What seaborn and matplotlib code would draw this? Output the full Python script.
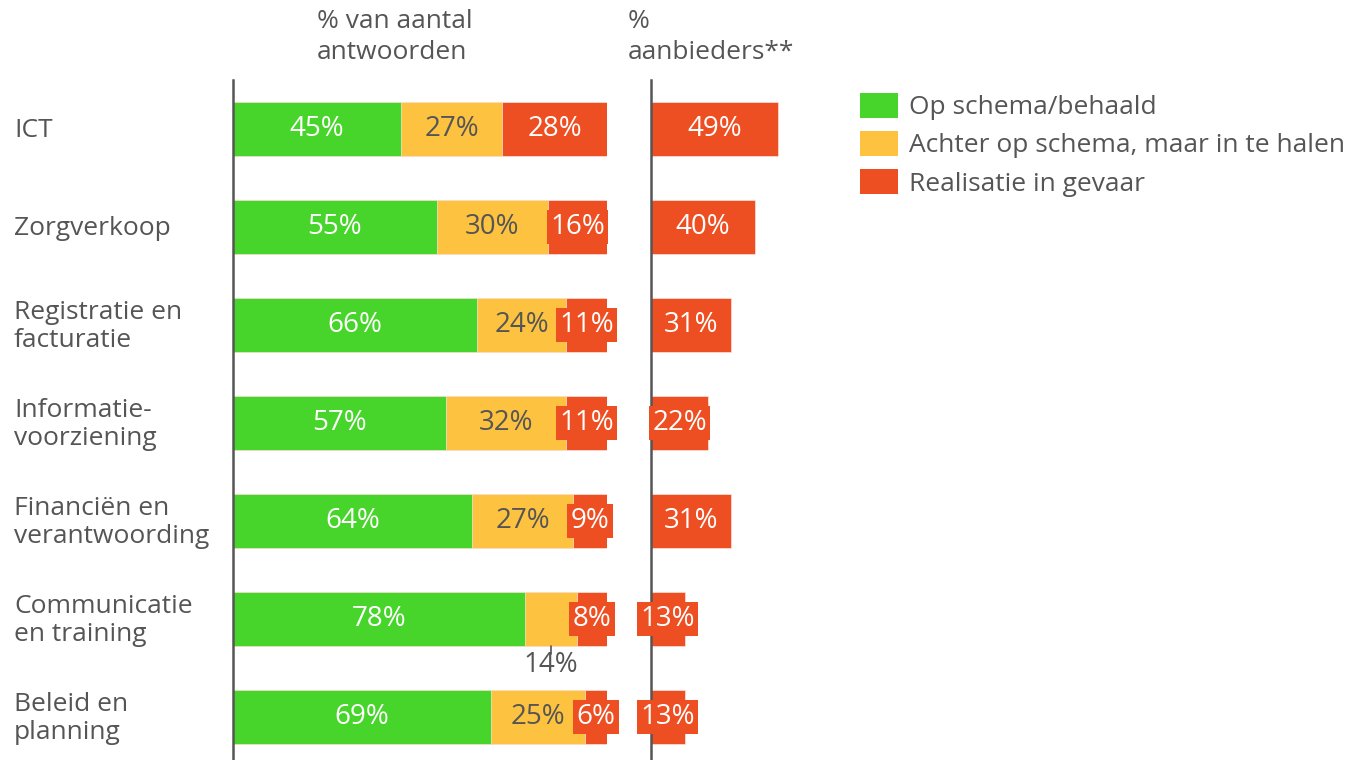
import numpy as np
import pandas as pd
import matplotlib.pyplot as plt
import seaborn as sns
from matplotlib.patches import Patch
from matplotlib.transforms import blended_transform_factory

categories = ["ICT", "Zorgverkoop", "Registratie en\nfacturatie", "Informatie-\nvoorziening",
              "Financiën en\nverantwoording", "Communicatie\nen training", "Beleid en\nplanning"]
op_schema = [45, 55, 66, 57, 64, 78, 69]
achter = [27, 30, 24, 32, 27, 14, 25]
gevaar = [28, 16, 11, 11, 9, 8, 6]
aanbieders = [49, 40, 31, 22, 31, 13, 13]

series = ["Op schema/behaald", "Achter op schema, maar in te halen", "Realisatie in gevaar"]
colors = ["#48d52b", "#fdc340", "#ee4f22"]
label_colors = ["white", "#555555", "white"]
txt = "#555555"

sns.set_theme(style="white")
plt.rcParams['font.family'] = ['Open Sans', 'DejaVu Sans']

df = pd.DataFrame({"cat": categories, series[0]: op_schema, series[1]: achter, series[2]: gevaar})
# rows that add to 101 are scaled so every bar ends at 100%
tot = df[series].sum(axis=1)
shares = df[series].div(tot, axis=0) * 100
cum = shares.cumsum(axis=1)

W, H = 1365, 760
fig = plt.figure(figsize=(W / 100, H / 100), dpi=100)
ax = fig.add_axes([233 / W, 0, 374 / W, 1 - 80 / H])
ax2 = fig.add_axes([651 / W, 0, 259 / W, 1 - 80 / H])

# stacked bars: draw cumulative totals back to front
for i in [2, 1, 0]:
    sns.barplot(x=cum[series[i]].values, y=df["cat"], orient="h", color=colors[i],
                width=0.55, ax=ax, saturation=1, edgecolor="#fbe3d8", linewidth=0.5)
sns.barplot(x=aanbieders, y=categories, orient="h", color=colors[2], width=0.55, ax=ax2,
            saturation=1, edgecolor="#fbe3d8", linewidth=0.5)

fs = 19
vfs = 20
for a in [ax, ax2]:
    a.set_xlim(0, 100)
    a.set_ylim(6.44, -0.5)
    a.set_xticks([])
    a.set_yticks([])
    a.set_xlabel("")
    a.set_ylabel("")
    for s in ["top", "right", "bottom"]:
        a.spines[s].set_visible(False)
    a.spines["left"].set_color(txt)
    a.spines["left"].set_linewidth(1.8)
    a.set_facecolor("none")

box = dict(facecolor=colors[2], edgecolor="none", pad=2.5)
for r in range(len(categories)):
    start = 0
    for i, s in enumerate(series):
        w = shares.loc[r, s]
        val = df.loc[r, s]
        cx = start + w / 2
        if s == series[1] and val < 15:
            ax.plot([cx, cx], [r + 0.28, r + 0.36], color=txt, lw=1.2)
            ax.text(cx, r + 0.47, f"{val}%", ha="center", va="center", fontsize=vfs, color=txt)
        elif i == 2:
            ax.text(cx, r, f"{val}%", ha="center", va="center", fontsize=vfs, color="white", bbox=box)
        else:
            ax.text(cx, r, f"{val}%", ha="center", va="center", fontsize=vfs, color=label_colors[i])
        start += w
    ax2.text(aanbieders[r] / 2, r, f"{aanbieders[r]}%", ha="center", va="center", fontsize=vfs,
             color="white", bbox=box)

tr = blended_transform_factory(fig.transFigure, ax.transData)
for r, c in enumerate(categories):
    ax.text(14 / W, r + 0.02, c, transform=tr, ha="left", va="center", fontsize=fs, color=txt,
            linespacing=1.15)

fig.text(317 / W, 1 - 9 / H, "% van aantal\nantwoorden", ha="left", va="top", fontsize=fs,
         color=txt, linespacing=1.3)
fig.text(628 / W, 1 - 9 / H, "%\naanbieders**", ha="left", va="top", fontsize=fs,
         color=txt, linespacing=1.3)

handles = [Patch(facecolor=c, edgecolor="none") for c in colors]
leg = fig.legend(handles, series, loc="upper left", bbox_to_anchor=(849 / W, 1 - 82 / H),
                 frameon=False, fontsize=fs, handlelength=1.44, handleheight=1.1,
                 labelspacing=0.4, handletextpad=0.42, borderaxespad=0)
for t in leg.get_texts():
    t.set_color(txt)

fig.savefig("out.png", dpi=100)
